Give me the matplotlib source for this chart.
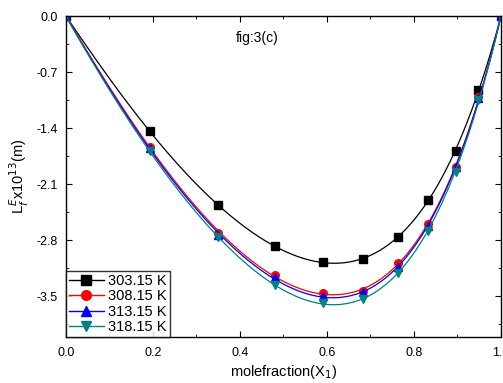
import numpy as np
import matplotlib
matplotlib.use('Agg')
import matplotlib.pyplot as plt

plt.rcParams['font.family'] = ['Liberation Sans', 'DejaVu Sans']

x1 = [0.0, 0.193, 0.349, 0.480, 0.591, 0.683, 0.763, 0.832, 0.897, 0.947, 1.0]
temps = ['303.15 K', '308.15 K', '313.15 K', '318.15 K']
lf_303 = [0.0, -1.44, -2.36, -2.875, -3.075, -3.03, -2.76, -2.30, -1.69, -0.92, 0.0]
lf_308 = [0.0, -1.63, -2.71, -3.23, -3.46, -3.43, -3.09, -2.60, -1.89, -1.01, 0.0]
lf_313 = [0.0, -1.65, -2.74, -3.26, -3.50, -3.45, -3.14, -2.62, -1.89, -1.02, 0.0]
lf_318 = [0.0, -1.69, -2.76, -3.36, -3.59, -3.53, -3.21, -2.68, -1.95, -1.05, 0.0]

colors = ['black', 'red', 'blue', '#008080']
markers = ['s', 'o', '^', 'v']


def rk_fit(x, y, order=4):
    # Redlich-Kister type smooth fit through the measured points
    x = np.asarray(x)
    y = np.asarray(y)
    A = np.column_stack([x * (1 - x) * (2 * x - 1) ** k for k in range(order)])
    coef, *_ = np.linalg.lstsq(A, y, rcond=None)
    xs = np.linspace(0, 1, 300)
    As = np.column_stack([xs * (1 - xs) * (2 * xs - 1) ** k for k in range(order)])
    return xs, As @ coef


fig = plt.figure(figsize=(5.03, 3.83), dpi=100)
ax = fig.add_axes([0.131, 0.120, 0.865, 0.838])

for lab, ys, c, m in zip(temps, [lf_303, lf_308, lf_313, lf_318], colors, markers):
    xs, ys_fit = rk_fit(x1, ys)
    ax.plot(xs, ys_fit, color=c, lw=0.9)
    ax.plot(x1, ys, linestyle='none', marker=m, color=c, markersize=5.5)
    ax.plot([], [], color=c, marker=m, markersize=7, lw=1, label=lab)

ax.set_xlim(0, 1.0)
ax.set_ylim(-4.01, 0)
ax.set_xticks([0.0, 0.2, 0.4, 0.6, 0.8, 1.0])
ax.set_xticks(np.arange(0.1, 1.0, 0.2), minor=True)
ax.set_yticks([0.0, -0.7, -1.4, -2.1, -2.8, -3.5])
ax.set_yticks([-0.35, -1.05, -1.75, -2.45, -3.15, -3.85], minor=True)
ax.set_xticklabels(['0.0', '0.2', '0.4', '0.6', '0.8', '1.0'])
ax.set_yticklabels(['0.0', '-0.7', '-1.4', '-2.1', '-2.8', '-3.5'])
ax.tick_params(which='both', direction='in', top=True, right=True, labelsize=9)
ax.tick_params(which='major', length=4)
ax.tick_params(which='minor', length=2.5)
ax.tick_params(axis='x', pad=7)
ax.tick_params(axis='y', pad=6)
for sp in ax.spines.values():
    sp.set_linewidth(1.0)

ax.set_xlabel('molefraction(X$_1$)', fontsize=10.5, labelpad=3)
ax.set_ylabel('L$_f^E$x10$^{13}$(m)', fontsize=10.5, labelpad=4)
ax.text(0.44, 0.955, 'fig:3(c)', transform=ax.transAxes, fontsize=10,
        ha='center', va='top')

leg = ax.legend(loc='lower left', fontsize=10.5, frameon=True, fancybox=False,
                edgecolor='black', borderaxespad=0, handlelength=2.4,
                handletextpad=0.3, borderpad=0.2, labelspacing=0.1)
leg.get_frame().set_linewidth(1.0)

fig.savefig('out.png', dpi=100)
